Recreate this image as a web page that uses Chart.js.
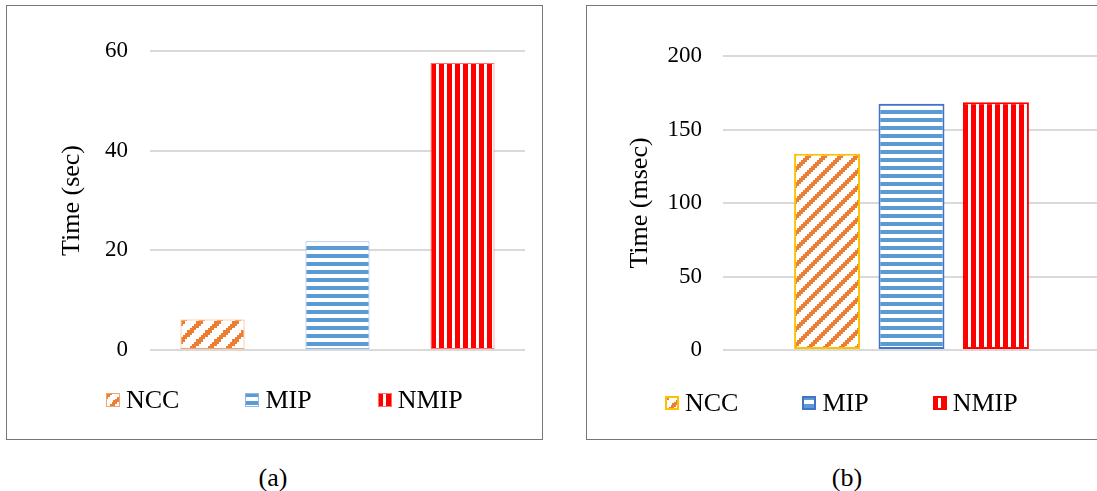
<!DOCTYPE html>
<html>
<head>
<meta charset="utf-8">
<script src="https://cdn.jsdelivr.net/npm/chart.js@4/dist/chart.umd.min.js"></script>
<style>
  html, body { margin: 0; padding: 0; background: #fff; }
  body { width: 1097px; height: 491px; overflow: hidden; position: relative;
         font-family: "Liberation Serif", "Times New Roman", serif; color: #000; }
  .frame { position: absolute; box-sizing: border-box; border: 1px solid #767676; }
  #frameA { left: 6px; top: 5px; width: 537px; height: 435px; }
  #frameB { left: 586px; top: 5px; width: 530px; height: 435px; }
  .plot { position: absolute; }
  #wrapA { left: 7px; top: 6px; width: 534px; height: 400px; }
  #wrapB { left: 587px; top: 6px; width: 530px; height: 400px; }
  .legend { position: absolute; display: flex; align-items: center; font-size: 26px; line-height: 30px; white-space: nowrap; }
  .legend .item { display: flex; align-items: center; }
  .legend canvas { display: block; margin-right: 6px; }
  .caption { position: absolute; width: 80px; text-align: center; font-size: 26px; line-height: 30px; top: 463px; }
</style>
</head>
<body>
<div class="frame" id="frameA"></div>
<div class="frame" id="frameB"></div>
<div class="plot" id="wrapA"><canvas id="chartA" width="534" height="400"></canvas></div>
<div class="plot" id="wrapB"><canvas id="chartB" width="530" height="400"></canvas></div>
<div class="legend" id="legendA" style="left:106px; top:385px;"></div>
<div class="legend" id="legendB" style="left:665px; top:388px;"></div>
<div class="caption" style="left:233px;">(a)</div>
<div class="caption" style="left:807px;">(b)</div>

<script>
// Series and values
const methods = ['NCC', 'MIP', 'NMIP'];
const timeSec = [6.1, 21.8, 57.6];          // panel (a), seconds
const timeMsec = [133.5, 167.5, 168.5];     // panel (b), milliseconds
const secTicks = [0, 20, 40, 60];
const msecTicks = [0, 50, 100, 150, 200];

const FONT = '"Liberation Serif", "Times New Roman", serif';
Chart.defaults.font.family = FONT;
Chart.defaults.color = '#000';

// Fill tiles: diagonal (stair-stepped), horizontal and vertical stripes
function makeTile(kind, color, period) {
  const c = document.createElement('canvas');
  c.width = period; c.height = period;
  const g = c.getContext('2d');
  g.fillStyle = '#fff';
  g.fillRect(0, 0, period, period);
  g.fillStyle = color;
  if (kind === 'diag') {
    for (let y = 0; y < period; y++) {
      for (let x = 0; x < period; x++) {
        const r = Math.floor(y * 8 / period), col = Math.floor(x * 8 / period);
        if ((col + r) % 8 < 3) g.fillRect(x, y, 1, 1);
      }
    }
  } else if (kind === 'horiz') {
    g.fillRect(0, 0, period, Math.round(period / 2));
  } else {
    g.fillRect(0, 0, Math.round(period * 5 / 8), period);
  }
  return c;
}

const fillsA = [
  { kind: 'diag',  color: '#ED7D31', period: 18, border: '#F4A46C', bw: 1 },
  { kind: 'horiz', color: '#5B9BD5', period: 8,  border: '#8DB9E2', bw: 1 },
  { kind: 'vert',  color: '#FF0000', period: 8,  border: '#FF7070', bw: 1 }
];
const fillsB = [
  { kind: 'diag',  color: '#ED7D31', period: 16, border: '#FFC000', bw: 2 },
  { kind: 'horiz', color: '#5B9BD5', period: 8,  border: '#4472C4', bw: 2 },
  { kind: 'vert',  color: '#FF0000', period: 8,  border: '#FF0000', bw: 2 }
];

function buildChart(canvasId, values, ticks, fills, cfg) {
  const canvas = document.getElementById(canvasId);
  const ctx = canvas.getContext('2d');
  const datasets = methods.map((name, i) => ({
    label: name,
    data: [values[i]],
    backgroundColor: ctx.createPattern(makeTile(fills[i].kind, fills[i].color, fills[i].period), 'repeat'),
    borderColor: fills[i].border,
    borderWidth: fills[i].bw,
    borderSkipped: false,
    categoryPercentage: cfg.catPct,
    barPercentage: cfg.barPct
  }));
  return new Chart(ctx, {
    type: 'bar',
    data: { labels: [''], datasets },
    options: {
      responsive: false,
      animation: false,
      events: [],
      layout: { padding: cfg.padding },
      plugins: { legend: { display: false }, tooltip: { enabled: false } },
      scales: {
        x: { display: false },
        y: {
          min: ticks[0],
          max: ticks[ticks.length - 1],
          afterFit: (scale) => { scale.width = cfg.axisWidth; },
          ticks: { stepSize: ticks[1] - ticks[0], padding: cfg.tickPad, font: { size: 23 }, color: '#000' },
          grid: { color: '#D9D9D9', lineWidth: 2, drawTicks: false },
          border: { display: false },
          title: { display: true, text: cfg.title, font: { size: 26 }, color: '#000', padding: { top: cfg.titlePad, bottom: 0 } }
        }
      }
    }
  });
}

buildChart('chartA', timeSec, secTicks, fillsA, {
  padding: { top: 45, right: 16, bottom: 56, left: 0 },
  axisWidth: 143, tickPad: 22, titlePad: 50,
  catPct: 1.0, barPct: 0.512, title: 'Time (sec)'
});
buildChart('chartB', timeMsec, msecTicks, fillsB, {
  padding: { top: 50, right: 17, bottom: 56, left: 0 },
  axisWidth: 136, tickPad: 21, titlePad: 38,
  catPct: 0.672, barPct: 0.781, title: 'Time (msec)'
});

// Legends with small pattern swatches
function buildLegend(elId, fills, gap) {
  const el = document.getElementById(elId);
  methods.forEach((name, i) => {
    const item = document.createElement('div');
    item.className = 'item';
    if (i < methods.length - 1) item.style.marginRight = gap + 'px';
    const sw = document.createElement('canvas');
    sw.width = 14; sw.height = 14;
    const g = sw.getContext('2d');
    const f = fills[i];
    g.fillStyle = g.createPattern(makeTile(f.kind, f.color, f.kind === 'diag' ? 14 : 8), 'repeat');
    g.fillRect(0, 0, 14, 14);
    g.strokeStyle = f.border;
    g.lineWidth = f.bw;
    g.strokeRect(f.bw / 2, f.bw / 2, 14 - f.bw, 14 - f.bw);
    const txt = document.createElement('span');
    txt.textContent = name;
    item.appendChild(sw);
    item.appendChild(txt);
    el.appendChild(item);
  });
}
buildLegend('legendA', fillsA, 66);
buildLegend('legendB', fillsB, 64);
</script>
</body>
</html>
